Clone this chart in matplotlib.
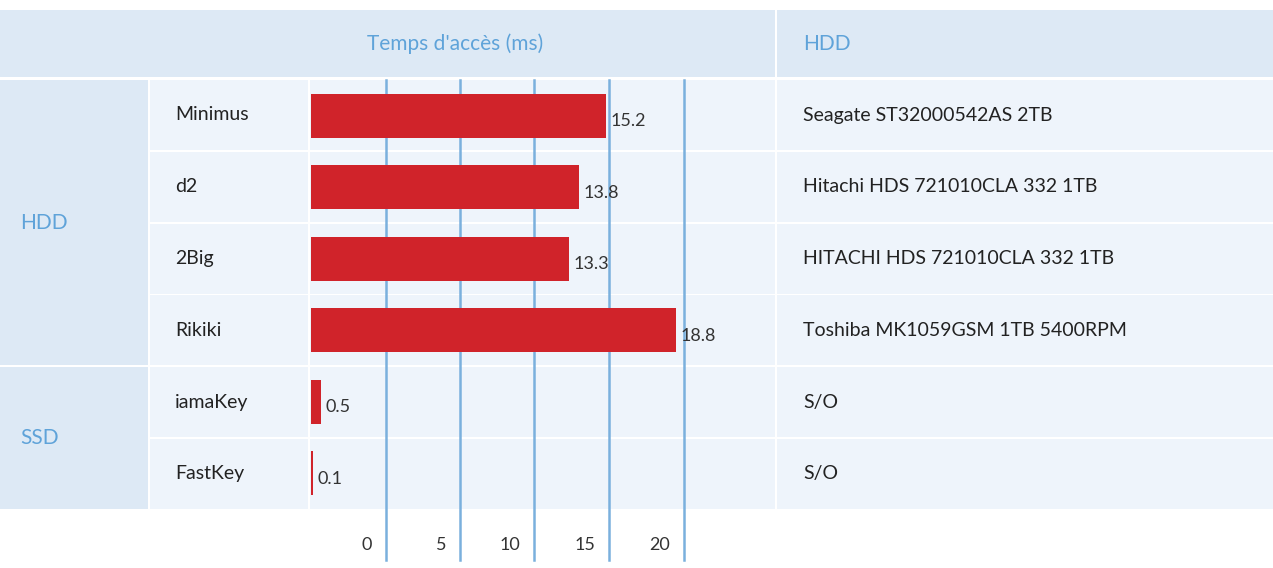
import matplotlib
matplotlib.use("Agg")
import matplotlib.pyplot as plt
from matplotlib.patches import Rectangle

names = ["Minimus", "d2", "2Big", "Rikiki", "iamaKey", "FastKey"]
values = [15.2, 13.8, 13.3, 18.8, 0.5, 0.1]
drives = ["Seagate ST32000542AS 2TB", "Hitachi HDS 721010CLA 332 1TB",
          "HITACHI HDS 721010CLA 332 1TB", "Toshiba MK1059GSM 1TB 5400RPM", "S/O", "S/O"]
groups = [("HDD", 0, 4), ("SSD", 4, 6)]
tick_labels = ["0", "5", "10", "15", "20"]

BLUE = "#5fa3d9"
HEAD = "#dde9f5"
ROW = "#eef4fb"
RED = "#d0232a"
GRID = "#7ab0dd"
plt.rcParams['font.family'] = ['Lato', 'DejaVu Sans']

fig = plt.figure(figsize=(12.73, 5.68), dpi=100)
bg = fig.add_axes([0, 0, 1, 1])
bg.set_xlim(0, 1273); bg.set_ylim(568, 0); bg.axis("off")

top0, rh, gap = 80, 70.0, 1.8
def rt(i): return top0 + i * (rh + gap)

# header
bg.add_patch(Rectangle((0, 10), 775, 67, color=HEAD, lw=0))
bg.add_patch(Rectangle((777, 10), 496, 67, color=HEAD, lw=0))
bg.text(455, 44, "Temps d'accès (ms)", color=BLUE, fontsize=15, ha="center", va="center")
bg.text(803, 44, "HDD", color=BLUE, fontsize=15, ha="left", va="center")

for g, a, b in groups:
    y0 = rt(a); y1 = rt(b - 1) + rh
    bg.add_patch(Rectangle((0, y0), 148, y1 - y0, color=HEAD, lw=0))
    bg.text(20, (y0 + y1) / 2, g, color=BLUE, fontsize=15, ha="left", va="center")

for i in range(len(names)):
    y = rt(i)
    bg.add_patch(Rectangle((150, y), 158, rh, color=ROW, lw=0))
    bg.add_patch(Rectangle((310, y), 465, rh, color=ROW, lw=0))
    bg.add_patch(Rectangle((777, y), 496, rh, color=ROW, lw=0))
    bg.text(175, y + rh / 2, names[i], fontsize=14, color="#222222", va="center")
    bg.text(803, y + rh / 2, drives[i], fontsize=14, color="#222222", va="center")

# bar axes
scale = 19.4
x0, x1 = 311, 775
yb0, yb1 = rt(0), rt(5) + rh
ax = fig.add_axes([x0 / 1273, 1 - yb1 / 568, (x1 - x0) / 1273, (yb1 - yb0) / 568])
ax.patch.set_alpha(0)
ax.set_xlim(0, (x1 - x0) / scale)
ax.set_ylim(len(names) - 0.5, -0.5)
ax.axis("off")
grid_px = [386, 460, 534, 609, 684]
for gx in grid_px:
    bg.plot([gx, gx], [rt(0), 560], color=GRID, lw=1.8, zorder=1)
for gx, lab in zip(grid_px, tick_labels):
    bg.text(gx - 14, 545, lab, fontsize=13, color="#333333", ha="right", va="center")
ax.barh(range(len(names)), values, height=0.62, color=RED, zorder=3)
for i, v in enumerate(values):
    ax.text(v + 0.25, i + 0.08, f"{v}", fontsize=13, color="#333333", va="center", zorder=4)

fig.savefig("out.png", dpi=100)
